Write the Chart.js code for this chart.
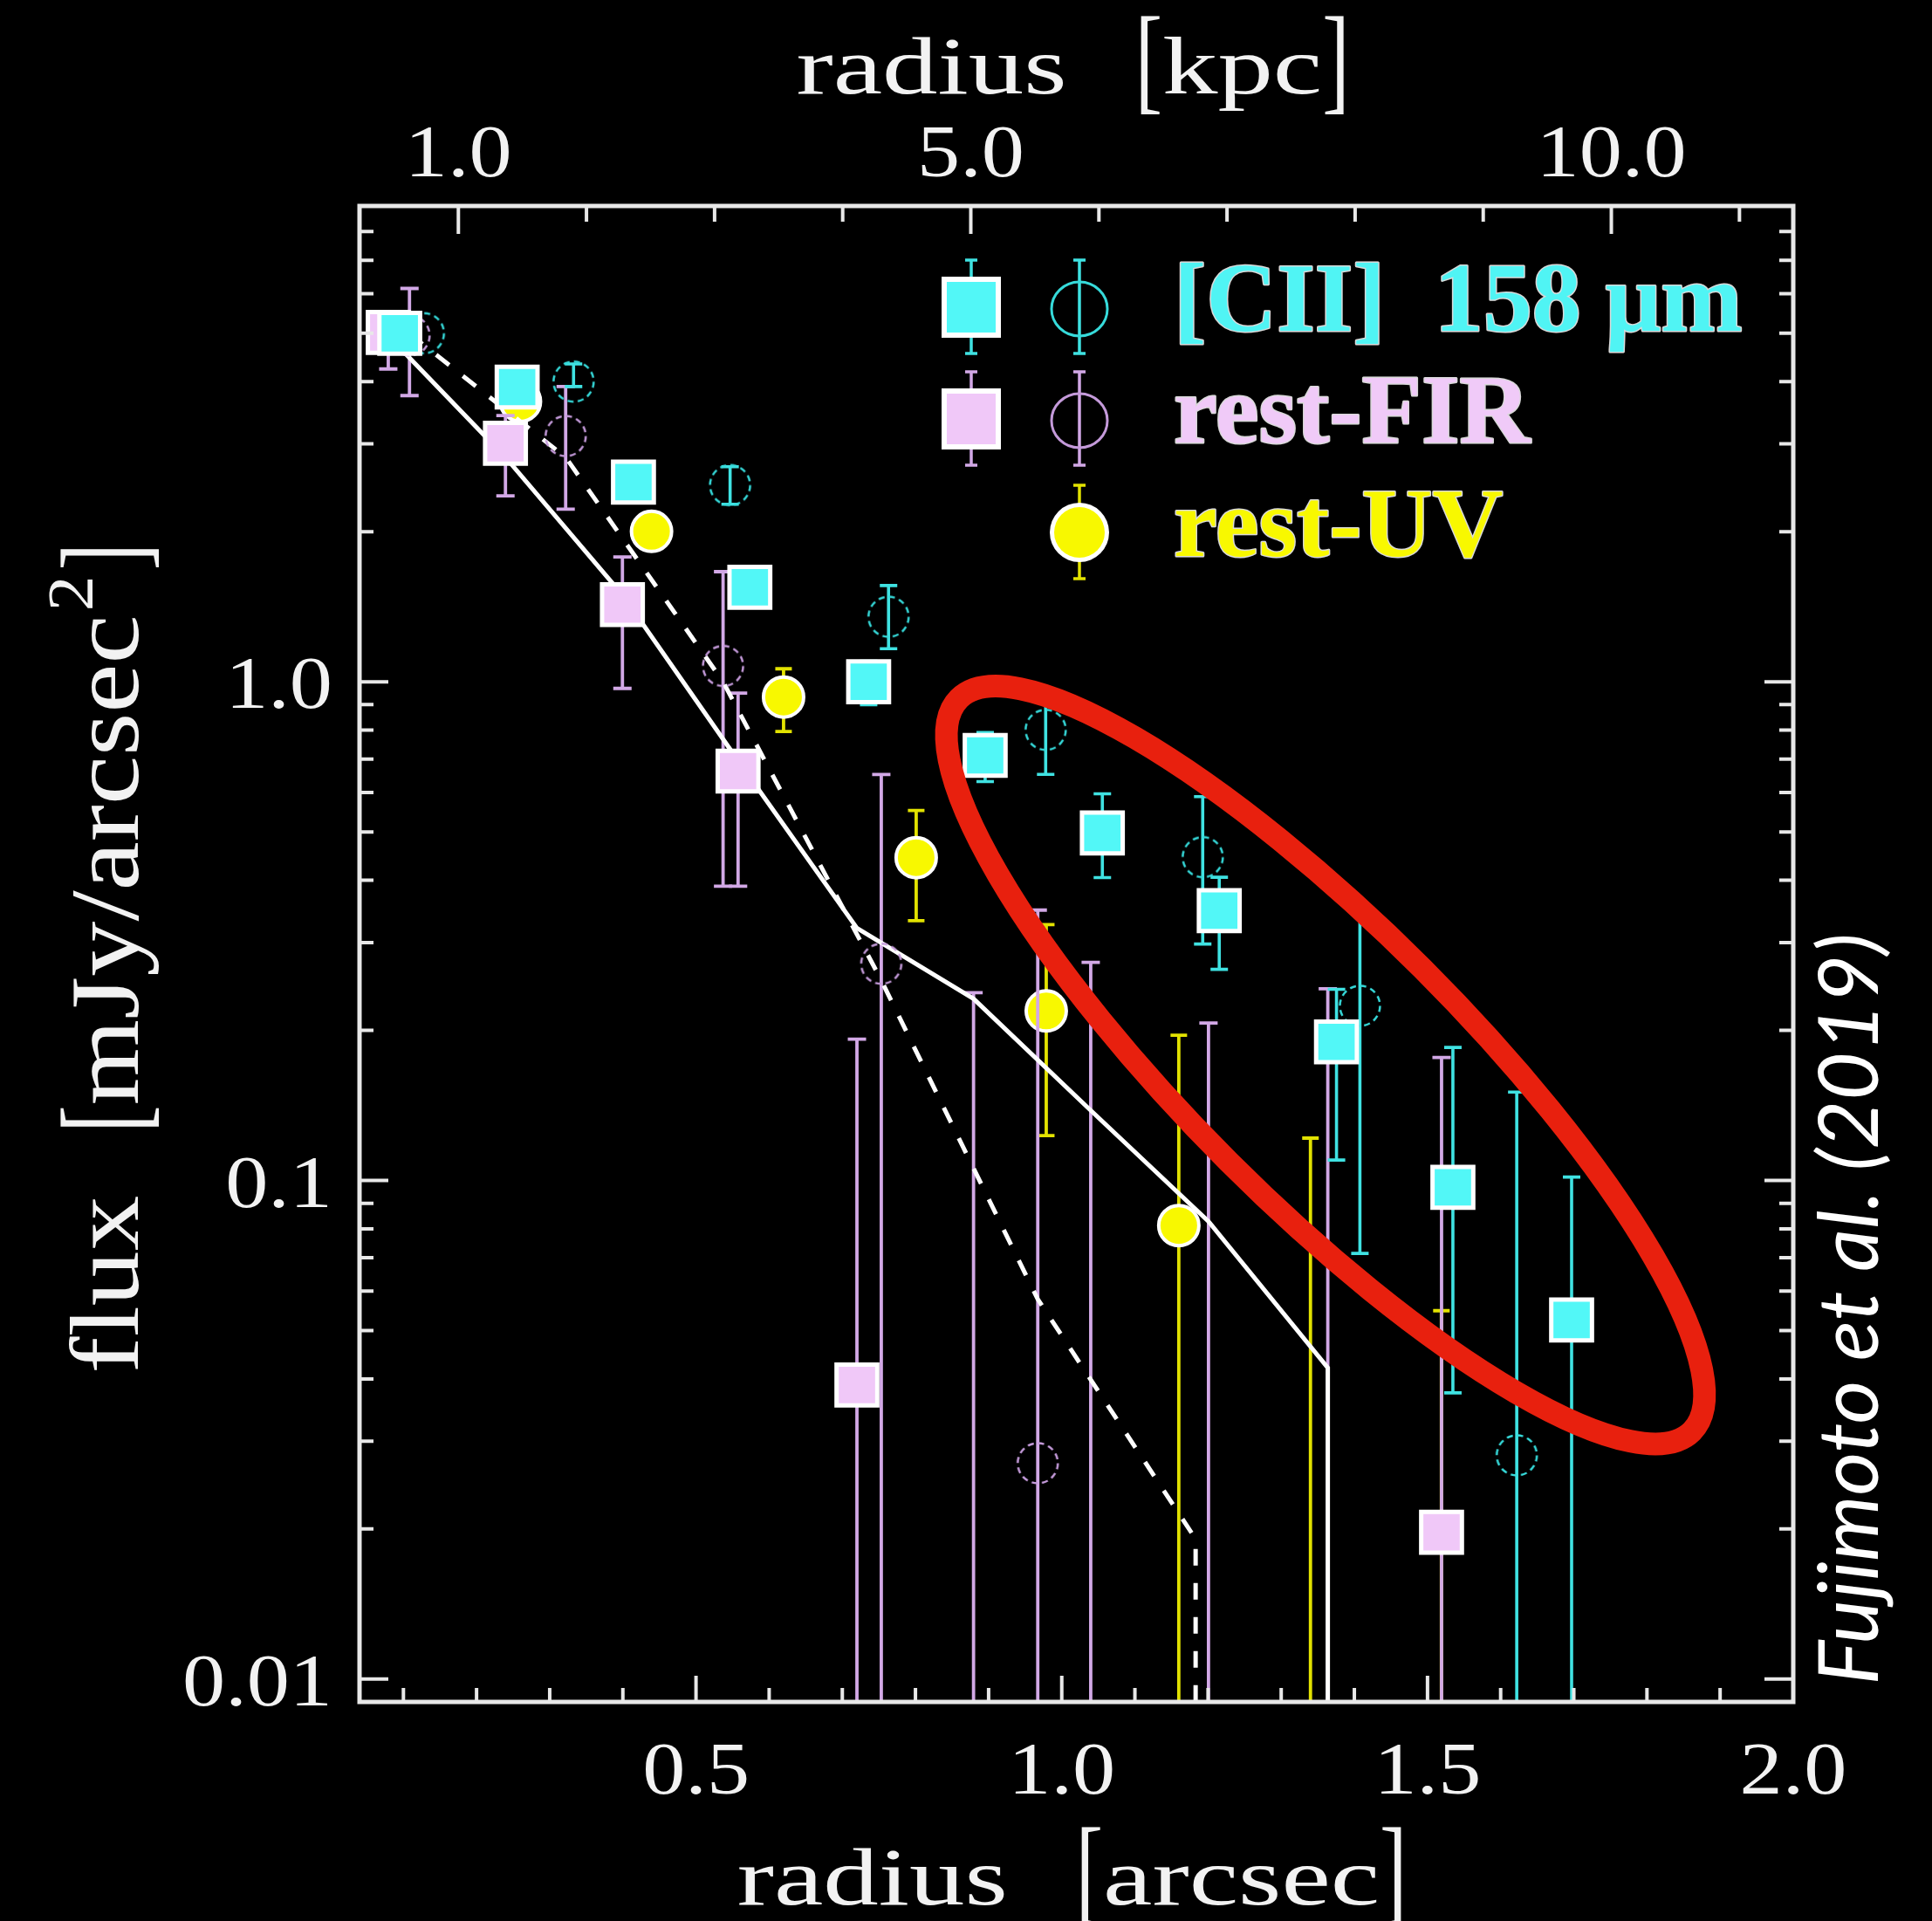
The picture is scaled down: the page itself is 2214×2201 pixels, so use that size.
<!DOCTYPE html>
<html>
<head>
<meta charset="utf-8">
<title>Radial surface brightness profiles</title>
<script src="https://cdn.jsdelivr.net/npm/chart.js@4.4.1/dist/chart.umd.min.js"></script>
<style>
  html, body { margin: 0; padding: 0; background: #000; }
  canvas { display: block; }
</style>
</head>
<body>
<canvas id="profile" width="2214" height="2201"></canvas>
<script>
// ---------------------------------------------------------------------------
// Radial profiles: flux [mJy/arcsec^2] against radius [arcsec]
// Values below the plotted range (0.009) are kept as 0.004 (marker off-scale),
// lower error bounds of 0.001 run below the bottom axis.
// ---------------------------------------------------------------------------

// [CII] 158 um, filled squares
const ciiSqX  = [0.095, 0.2555, 0.4145, 0.5736, 0.736, 0.8953, 1.0555, 1.2153, 1.3756, 1.5347, 1.697];
const ciiSqY  = [5.0, 3.90, 2.515, 1.547, 1.0, 0.712, 0.4976, 0.3476, 0.1896, 0.0969, 0.0525];
const ciiSqLo = [null, null, null, null, 0.90, 0.631, 0.405, 0.2651, 0.1099, 0.0375, 0.001];
const ciiSqHi = [null, null, null, null, 1.10, 0.791, 0.5963, 0.4055, 0.2418, 0.1848, 0.1016];

// [CII] 158 um, open circles
const ciiCiX  = [0.128, 0.3326, 0.5466, 0.7632, 0.978, 1.1927, 1.4076, 1.622];
const ciiCiY  = [5.0, 4.0, 2.48, 1.35, 0.801, 0.445, 0.224, 0.0281];
const ciiCiLo = [null, 3.91, 2.27, 1.165, 0.652, 0.2979, 0.0714, 0.001];
const ciiCiHi = [null, 4.34, 2.70, 1.56, 0.97, 0.5885, 0.3557, 0.1504];

// rest-FIR, filled squares
const firSqX  = [0.0793, 0.2395, 0.3994, 0.5575, 0.720, 0.8794, 1.0396, 1.2006, 1.3637, 1.5192];
const firSqY  = [5.02, 3.008, 1.428, 0.662, 0.0389, 0.004, 0.004, 0.004, 0.004, 0.0197];
const firSqLo = [4.24, 2.36, 0.970, 0.389, 0.001, 0.001, 0.001, 0.001, 0.001, 0.001];
const firSqHi = [null, 3.42, 1.78, 0.949, 0.192, 0.238, 0.2738, 0.2069, 0.2424, 0.1764];

// rest-FIR, open circles
const firCiX  = [0.1083, 0.3218, 0.537, 0.7533, 0.9672];
const firCiY  = [4.95, 3.11, 1.076, 0.272, 0.0271];
const firCiLo = [3.75, 2.22, 0.389, 0.001, 0.001];
const firCiHi = [6.15, 3.91, 1.663, 0.652, 0.3485];

// rest-UV, filled circles
const uvX  = [0.260, 0.4392, 0.6197, 0.801, 0.9788, 1.160, 1.340, 1.519];
const uvY  = [3.65, 2.003, 0.932, 0.444, 0.2187, 0.0812, 0.004, 0.004];
const uvLo = [null, null, 0.795, 0.332, 0.123, 0.001, 0.001, 0.001];
const uvHi = [null, null, 1.062, 0.552, 0.326, 0.1956, 0.1216, 0.0548];

// model profiles (solid / dashed), ending with a drop to zero flux
const modelSolidX = [0.0793, 0.2395, 0.3994, 0.5575, 0.720, 0.8794, 1.0396, 1.2006, 1.3637, 1.3637];
const modelSolidY = [4.94, 2.82, 1.494, 0.695, 0.3207, 0.2314, 0.1382, 0.0828, 0.0421, 0.0001];
const modelDashX  = [0.1083, 0.3218, 0.537, 0.7533, 0.9672, 1.183, 1.183];
const modelDashY  = [4.99, 2.82, 1.0, 0.252, 0.0578, 0.0191, 0.0001];

// axes
const KPC_PER_ARCSEC = 5.71;
const xTickValues  = [0.5, 1.0, 1.5, 2.0];
const xTickLabels  = ['0.5', '1.0', '1.5', '2.0'];
const yTickValues  = [1, 0.1, 0.01];
const yTickLabels  = ['1.0', '0.1', '0.01'];
const kpcTickValues = [1, 5, 10];
const kpcTickLabels = ['1.0', '5.0', '10.0'];

// ---------------------------------------------------------------------------
const SERIF = '"Liberation Serif", "Times New Roman", "DejaVu Serif", serif';
const COL = {
  ciiFill: '#52f7f7', ciiBar: '#3fe2e2', ciiOpen: '#36dada',
  firFill: '#f0c8f8', firBar: '#d2a8e6', firOpen: '#c49ada',
  uvFill: '#f8f800', uvBar: '#e2e200',
  frame: '#e8e8e8', text: '#f2f2f2', ring: '#e8200e'
};

const pts = (xs, ys) => xs.map((x, i) => ({ x, y: ys[i] }));

function dashedCircle(r, color, lw) {
  const c = document.createElement('canvas');
  const s = Math.ceil(2 * (r + lw)) + 2;
  c.width = s; c.height = s;
  const g = c.getContext('2d');
  g.strokeStyle = color; g.lineWidth = lw; g.setLineDash([7, 5]);
  g.beginPath(); g.arc(s / 2, s / 2, r, 0, Math.PI * 2); g.stroke();
  return c;
}

function stretchedText(ctx, str, x, y, font, color, sx = 1, sy = 1, align = 'left') {
  ctx.save();
  ctx.translate(x, y);
  ctx.scale(sx, sy);
  ctx.font = font;
  ctx.fillStyle = color;
  ctx.textAlign = align;
  ctx.textBaseline = 'alphabetic';
  ctx.fillText(str, 0, 0);
  ctx.restore();
}

function drawPieces(ctx, pieces, cx, by, color) {
  const widths = pieces.map(p => { ctx.font = p.font; return ctx.measureText(p.t).width * (p.sx || 1); });
  const total = pieces.reduce((s, p, i) => s + (p.gap || 0) + widths[i], 0);
  let x = cx - total / 2;
  pieces.forEach((p, i) => {
    x += p.gap || 0;
    stretchedText(ctx, p.t, x, by + (p.dy || 0), p.font, color, p.sx || 1, p.sy || 1);
    x += widths[i];
  });
}

// error bars, drawn per group just before a chosen dataset so layering follows the figure
const errorBars = {
  id: 'errorBars',
  beforeDatasetDraw(chart, args) {
    const host = chart.data.datasets[args.index];
    if (!host.drawBarGroups) return;
    const { ctx, chartArea: a } = chart;
    const xs = chart.scales.x, ys = chart.scales.y;
    ctx.save();
    ctx.beginPath();
    ctx.rect(a.left, a.top, a.right - a.left, a.bottom - a.top);
    ctx.clip();
    chart.data.datasets.forEach(d => {
      if (!d.barGroup || !host.drawBarGroups.includes(d.barGroup)) return;
      ctx.strokeStyle = d.barColor;
      ctx.lineWidth = d.barWidth;
      ctx.lineCap = 'butt';
      d.data.forEach((p, i) => {
        const lo = d.errLo[i], hi = d.errHi[i];
        if (lo == null && hi == null) return;
        const px = xs.getPixelForValue(p.x);
        const yTop = ys.getPixelForValue(hi != null ? hi : p.y);
        const yBot = ys.getPixelForValue(lo != null ? lo : p.y);
        const cw = d.capWidth / 2;
        ctx.beginPath();
        ctx.moveTo(px, yTop); ctx.lineTo(px, yBot);
        if (hi != null) { ctx.moveTo(px - cw, yTop); ctx.lineTo(px + cw, yTop); }
        if (lo != null) { ctx.moveTo(px - cw, yBot); ctx.lineTo(px + cw, yBot); }
        ctx.stroke();
      });
    });
    ctx.restore();
  }
};

// frame with inward ticks, tick labels, axis titles, highlight ring, key and credit
const decorations = {
  id: 'decorations',
  beforeDraw(chart) {
    const { ctx, width, height } = chart;
    ctx.save(); ctx.fillStyle = '#000'; ctx.fillRect(0, 0, width, height); ctx.restore();
  },
  afterDatasetsDraw(chart, args, opts) {
    const { ctx, chartArea: a } = chart;
    const xs = chart.scales.x, ys = chart.scales.y, ks = chart.scales.kpc;

    // highlight ring (anchored on two data-space points along its long axis)
    const r = opts.ring;
    const p1 = { x: xs.getPixelForValue(r.x[0]), y: ys.getPixelForValue(r.y[0]) };
    const p2 = { x: xs.getPixelForValue(r.x[1]), y: ys.getPixelForValue(r.y[1]) };
    const semiA = Math.hypot(p2.x - p1.x, p2.y - p1.y) / 2;
    ctx.save();
    ctx.strokeStyle = COL.ring; ctx.lineWidth = 26;
    ctx.beginPath();
    ctx.ellipse((p1.x + p2.x) / 2, (p1.y + p2.y) / 2, semiA, semiA * r.minorRatio,
      Math.atan2(p2.y - p1.y, p2.x - p1.x), 0, Math.PI * 2);
    ctx.stroke();
    ctx.restore();

    // frame
    ctx.save();
    ctx.strokeStyle = COL.frame;
    ctx.lineWidth = 5;
    ctx.strokeRect(a.left, a.top, a.right - a.left, a.bottom - a.top);
    ctx.lineWidth = 4;
    ctx.beginPath();
    const MAJ = 33, MIN = 16;
    // bottom (arcsec)
    for (let i = 1; i < 20; i++) {
      const px = xs.getPixelForValue(i / 10), len = i % 5 === 0 ? MAJ - 3 : MIN;
      ctx.moveTo(px, a.bottom); ctx.lineTo(px, a.bottom - len);
    }
    // top (kpc)
    for (let k = 1; k <= 11; k++) {
      const px = ks.getPixelForValue(k);
      if (px < a.left + 2 || px > a.right - 2) continue;
      const len = (k === 1 || k === 5 || k === 10) ? MAJ - 1 : MIN + 2;
      ctx.moveTo(px, a.top); ctx.lineTo(px, a.top + len);
    }
    // left and right (log flux)
    for (const dec of [0.001, 0.01, 0.1, 1]) {
      for (let m = 1; m <= 9; m++) {
        const v = dec * m;
        const py = ys.getPixelForValue(v);
        if (py < a.top + 2 || py > a.bottom - 2) continue;
        const len = m === 1 ? MAJ : MIN;
        ctx.moveTo(a.left, py); ctx.lineTo(a.left + len, py);
        ctx.moveTo(a.right, py); ctx.lineTo(a.right - len, py);
      }
    }
    ctx.stroke();
    ctx.restore();

    // tick labels
    const tickFont = `84px ${SERIF}`, TSX = 1.17;
    yTickValues.forEach((v, i) => {
      stretchedText(ctx, yTickLabels[i], a.left - 31, ys.getPixelForValue(v) + 30, tickFont, COL.text, TSX, 1, 'right');
    });
    xTickValues.forEach((v, i) => {
      stretchedText(ctx, xTickLabels[i], xs.getPixelForValue(v), a.bottom + 105, tickFont, COL.text, TSX, 1, 'center');
    });
    kpcTickValues.forEach((v, i) => {
      stretchedText(ctx, kpcTickLabels[i], ks.getPixelForValue(v), a.top - 34, tickFont, COL.text, TSX, 1, 'center');
    });

    // axis titles
    const tf = `94px ${SERIF}`, TX = 1.35;
    const br = (t, gap) => ({ t, font: tf, sx: 1, sy: 1.45, dy: 6, gap });
    drawPieces(ctx, [{ t: 'radius', font: tf, sx: TX }, br('[', 78), { t: 'kpc', font: tf, sx: TX }, br(']', 0)],
      (a.left + a.right) / 2 - 4, a.top - 129, COL.text);
    drawPieces(ctx, [{ t: 'radius', font: tf, sx: TX }, br('[', 78), { t: 'arcsec', font: tf, sx: TX }, br(']', 0)],
      (a.left + a.right) / 2 - 5, a.bottom + 232, COL.text);
    const yf = `112px ${SERIF}`, YX = 1.13;
    ctx.save();
    ctx.translate(158, (a.top + a.bottom) / 2 + 5);
    ctx.rotate(-Math.PI / 2);
    drawPieces(ctx, [
      { t: 'flux', font: yf, sx: YX }, br('[', 72), { t: 'mJy/arcsec', font: yf, sx: YX },
      { t: '2', font: `74px ${SERIF}`, sx: 1.1, dy: -52, gap: 4 }, br(']', 6)
    ], 0, 0, COL.text);
    ctx.restore();

    // key
    const key = opts.key;
    key.rows.forEach(row => {
      const cy = row.y;
      ctx.save();
      ctx.lineWidth = 3.5;
      // error bars of the key symbols
      const bar = (x, col) => {
        ctx.strokeStyle = col; ctx.beginPath();
        ctx.moveTo(x, cy - 54); ctx.lineTo(x, cy + 53);
        ctx.moveTo(x - 7, cy - 54); ctx.lineTo(x + 7, cy - 54);
        ctx.moveTo(x - 7, cy + 53); ctx.lineTo(x + 7, cy + 53);
        ctx.stroke();
      };
      if (row.square) {
        bar(key.xSquare, row.bar);
        ctx.fillStyle = '#fff';
        ctx.fillRect(key.xSquare - 34, cy - 35, 68, 70);
        ctx.fillStyle = row.square;
        ctx.fillRect(key.xSquare - 28, cy - 29, 56, 58);
      }
      bar(key.xCircle, row.bar);
      if (row.open) {
        ctx.strokeStyle = row.open; ctx.lineWidth = 3;
        ctx.beginPath(); ctx.ellipse(key.xCircle, cy + 2, 32, 31, 0, 0, Math.PI * 2); ctx.stroke();
      } else {
        ctx.fillStyle = '#fff';
        ctx.beginPath(); ctx.ellipse(key.xCircle, cy, 34, 34, 0, 0, Math.PI * 2); ctx.fill();
        ctx.fillStyle = row.filled;
        ctx.beginPath(); ctx.ellipse(key.xCircle, cy, 29, 29, 0, 0, Math.PI * 2); ctx.fill();
      }
      ctx.font = `bold 112px ${SERIF}`;
      ctx.textBaseline = 'alphabetic';
      ctx.lineJoin = 'round';
      ctx.strokeStyle = 'rgba(255,255,255,0.85)';
      ctx.lineWidth = 3;
      ctx.strokeText(row.label, key.xText, cy + 27);
      ctx.fillStyle = row.color;
      ctx.fillText(row.label, key.xText, cy + 27);
      ctx.restore();
    });

    // credit
    ctx.save();
    ctx.translate(2152, 1500);
    ctx.rotate(-Math.PI / 2);
    ctx.font = 'italic 400 96px Lato, "Open Sans", sans-serif';
    ctx.fillStyle = '#ffffff';
    ctx.textAlign = 'center';
    ctx.textBaseline = 'alphabetic';
    ctx.fillText('Fujimoto et al. (2019)', 0, 0);
    ctx.restore();
  }
};

const squarePoint = (fill) => ({
  pointStyle: 'rect', pointRadius: 33, pointHoverRadius: 33,
  pointBackgroundColor: fill, pointBorderColor: '#ffffff', pointBorderWidth: 5, showLine: false
});

new Chart(document.getElementById('profile'), {
  type: 'scatter',
  data: {
    datasets: [
      {
        label: 'rest-UV', data: pts(uvX, uvY), order: 7,
        pointStyle: 'circle', pointRadius: 23, pointHoverRadius: 23,
        pointBackgroundColor: COL.uvFill, pointBorderColor: '#ffffff', pointBorderWidth: 4,
        errLo: uvLo, errHi: uvHi, barGroup: 'uv', barColor: COL.uvBar, barWidth: 3.8, capWidth: 19,
        drawBarGroups: ['uv']
      },
      {
        label: 'model (solid)', type: 'line', data: pts(modelSolidX, modelSolidY), order: 6,
        borderColor: '#ffffff', borderWidth: 5, pointRadius: 0, tension: 0, fill: false, clip: 0,
        drawBarGroups: ['fir']
      },
      {
        label: 'model (dashed)', type: 'line', data: pts(modelDashX, modelDashY), order: 5,
        borderColor: '#ffffff', borderWidth: 5, borderDash: [19, 20], pointRadius: 0, tension: 0,
        fill: false, clip: 0
      },
      {
        label: 'rest-FIR (open)', data: pts(firCiX, firCiY), order: 4,
        pointStyle: dashedCircle(23, COL.firOpen, 2.5),
        errLo: firCiLo, errHi: firCiHi, barGroup: 'fir', barColor: COL.firBar, barWidth: 3.8, capWidth: 21
      },
      {
        label: 'rest-FIR', data: pts(firSqX, firSqY), order: 3, ...squarePoint(COL.firFill),
        errLo: firSqLo, errHi: firSqHi, barGroup: 'fir', barColor: COL.firBar, barWidth: 3.8, capWidth: 21
      },
      {
        label: '[CII] (open)', data: pts(ciiCiX, ciiCiY), order: 2,
        pointStyle: dashedCircle(23, COL.ciiOpen, 2.5),
        errLo: ciiCiLo, errHi: ciiCiHi, barGroup: 'cii', barColor: COL.ciiBar, barWidth: 3.6, capWidth: 20,
        drawBarGroups: ['cii']
      },
      {
        label: '[CII] 158 μm', data: pts(ciiSqX, ciiSqY), order: 1, ...squarePoint(COL.ciiFill),
        errLo: ciiSqLo, errHi: ciiSqHi, barGroup: 'cii', barColor: COL.ciiBar, barWidth: 3.6, capWidth: 20
      }
    ]
  },
  options: {
    responsive: false,
    devicePixelRatio: 1,
    animation: false,
    events: [],
    layout: { padding: { left: 412, right: 159, top: 236, bottom: 251 } },
    scales: {
      x: { type: 'linear', min: 0.04, max: 2.0, display: false },
      y: { type: 'logarithmic', min: 0.009, max: 9, display: false },
      kpc: { type: 'linear', axis: 'x', position: 'top', min: 0.04 * KPC_PER_ARCSEC, max: 2.0 * KPC_PER_ARCSEC, display: false }
    },
    plugins: {
      legend: { display: false },
      tooltip: { enabled: false },
      decorations: {
        ring: { x: [0.8595, 1.8615], y: [0.925, 0.0314], minorRatio: 0.264 },
        key: {
          xSquare: 1113, xCircle: 1237, xText: 1345,
          rows: [
            { y: 352, label: '[CII]  158 μm', color: '#50f4f4', square: COL.ciiFill, bar: COL.ciiBar, open: COL.ciiOpen },
            { y: 480, label: 'rest-FIR', color: '#f0caf8', square: COL.firFill, bar: COL.firBar, open: COL.firOpen },
            { y: 610, label: 'rest-UV', color: '#f8f800', bar: COL.uvBar, filled: COL.uvFill }
          ]
        }
      }
    }
  },
  plugins: [errorBars, decorations]
});
</script>
</body>
</html>
